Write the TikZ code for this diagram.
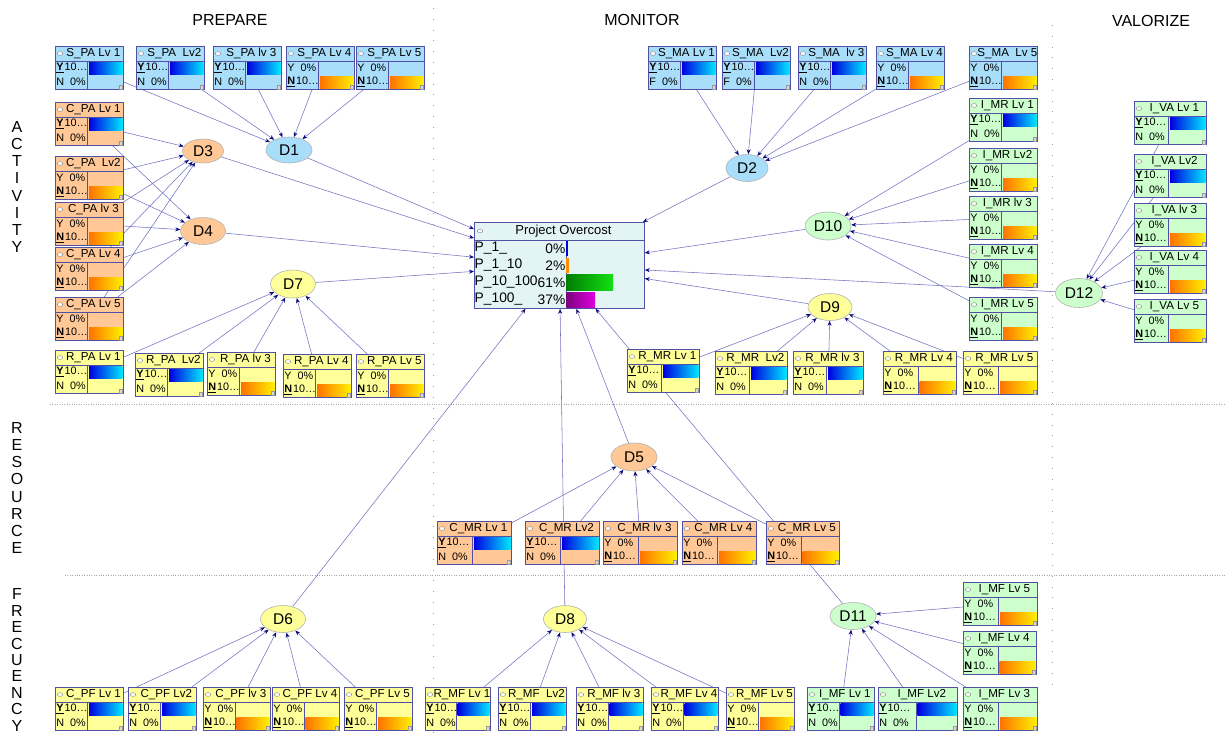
\documentclass[tikz,border=0pt]{standalone}
\usepackage{fontspec}
\setmainfont{Liberation Sans}
\usetikzlibrary{arrows.meta, shapes.geometric, backgrounds}

\definecolor{bluefill}{RGB}{168,222,250}
\definecolor{orangefill}{RGB}{255,200,150}
\definecolor{yellowfill}{RGB}{255,255,153}
\definecolor{greenfill}{RGB}{204,255,204}
\definecolor{pofill}{RGB}{226,244,244}
\definecolor{cptborder}{RGB}{80,80,165}
\definecolor{linkc}{RGB}{115,115,195}
\definecolor{arrowc}{RGB}{10,10,120}
\definecolor{ybarl}{RGB}{0,0,225}
\definecolor{ybarr}{RGB}{0,230,255}
\definecolor{nbarl}{RGB}{255,115,0}
\definecolor{nbarr}{RGB}{255,240,0}
\definecolor{pogreenl}{RGB}{0,125,0}
\definecolor{pogreenr}{RGB}{20,225,20}
\definecolor{popurplel}{RGB}{125,0,125}
\definecolor{popurpler}{RGB}{225,0,225}

% one probability box: name, corner, width, fill, title, row 1, row 2, bar colour, bar offset
\newcommand{\cptbox}[9]{%
  \node[cpt, fill=#4, minimum width=#3] (#1) at (#2) {};
  \shade[left color=#8l, right color=#8r]
    ([xshift=0.48*#3+1.5, yshift=-#9]#1.north west) rectangle ([xshift=-1.5, yshift=-#9-12]#1.north east);
  \draw[cptline] ([yshift=-15]#1.north west) -- ([yshift=-15]#1.north east);
  \draw[cptline] ([xshift=0.48*#3, yshift=-15]#1.north west) -- ([xshift=0.48*#3]#1.south west);
  \node[cpticon] at ([xshift=5, yshift=-7.5]#1.north west) {};
  \node[cpttitle] at ([xshift=4, yshift=-7.5]#1.north) {#5};
  \node[cptrow] at ([xshift=1.2, yshift=-22]#1.north west) {#6};
  \node[cptrow] at ([xshift=1.2, yshift=-36]#1.north west) {#7};
  \draw[cptcorner] ([xshift=-5, yshift=1]#1.south east) rectangle ([xshift=-1.5, yshift=4.5]#1.south east);
}
\newcommand{\cpty}[6][N]{\cptbox{#2}{#3}{#4}{#5}{#6}{\underline{\textbf{Y}}\kern1pt10\ldots}{#1\hspace{6pt}0\%}{ybar}{16}}
\newcommand{\cptn}[5]{\cptbox{#1}{#2}{#3}{#4}{#5}{Y\hspace{6pt}0\%}{\underline{\textbf{N}}\kern1pt10\ldots}{nbar}{30}}

\begin{document}
\begin{tikzpicture}[
  x=1pt,
  y=1pt,
  cpt/.style={draw=cptborder, line width=0.8pt, rectangle, anchor=north west,
    inner sep=0pt, minimum height=43},
  cptline/.style={draw=cptborder, line width=0.8pt},
  cpticon/.style={ellipse, draw=gray, fill=white, line width=0.4pt,
    minimum width=5.5, minimum height=3.8, inner sep=0pt},
  cpttitle/.style={inner sep=0pt, font=\fontsize{11.6}{12}\selectfont},
  cptrow/.style={anchor=west, inner sep=0pt, font=\fontsize{10.8}{12}\selectfont},
  cptcorner/.style={fill=gray!30, draw=gray!80, line width=0.3pt},
  potitle/.style={inner sep=0pt, font=\fontsize{13}{14}\selectfont},
  porow/.style={inner sep=0pt, font=\fontsize{13.8}{14}\selectfont},
  dnode/.style={ellipse, draw=gray!60, line width=0.6pt, inner sep=0pt,
    minimum width=45, minimum height=27, font=\fontsize{15.5}{15.5}\selectfont},
  link/.style={draw=linkc, line width=0.55pt,
    -{Stealth[length=5pt, width=4pt, color=arrowc]}},
  sepv/.style={draw=gray!75, line width=0.8pt, dash pattern=on 0.8pt off 10pt},
  seph/.style={draw=gray!70, line width=0.7pt, dash pattern=on 0.8pt off 1.6pt},
  lab/.style={inner sep=0pt, font=\fontsize{16}{16}\selectfont},
  sidelab/.style={inner sep=0pt, align=center, font=\fontsize{16}{17.1}\selectfont}
]
  \useasboundingbox (0,0) rectangle (1225,-734);

  % Column and row headings.
  \node[lab] (prepare)  at (230,-20)  {PREPARE};
  \node[lab] (monitor)  at (642,-20)  {MONITOR};
  \node[lab] (valorize) at (1151,-21) {VALORIZE};
  \node[sidelab] (activity)  at (17,-187) {A\\C\\T\\I\\V\\I\\T\\Y};
  \node[sidelab] (resource)  at (17,-488) {R\\E\\S\\O\\U\\R\\C\\E};
  \node[sidelab, font=\fontsize{16}{16.4}\selectfont] (frecuency) at (17,-660) {F\\R\\E\\C\\U\\E\\N\\C\\Y};

  % Prepare / activity.
  \cpty{spa1}{55,-46}{68}{bluefill}{S\_PA Lv 1}
  \cpty{spa2}{136,-46}{68}{bluefill}{S\_PA\ \ Lv2}
  \cpty{spa3}{213,-46}{68}{bluefill}{S\_PA lv 3}
  \cptn{spa4}{286,-46}{68}{bluefill}{S\_PA Lv 4}
  \cptn{spa5}{356,-46}{68}{bluefill}{S\_PA Lv 5}

  \cpty{cpa1}{55,-102}{68}{orangefill}{C\_PA Lv 1}
  \cptn{cpa2}{55,-156}{68}{orangefill}{C\_PA\ \ Lv2}
  \cptn{cpa3}{55,-202}{68}{orangefill}{C\_PA lv 3}
  \cptn{cpa4}{55,-247}{68}{orangefill}{C\_PA Lv 4}
  \cptn{cpa5}{55,-297}{68}{orangefill}{C\_PA Lv 5}

  \cpty{rpa1}{55,-350}{68}{yellowfill}{R\_PA Lv 1}
  \cpty{rpa2}{135,-353}{68}{yellowfill}{R\_PA\ \ Lv2}
  \cptn{rpa3}{207,-352}{68}{yellowfill}{R\_PA lv 3}
  \cptn{rpa4}{283,-354}{68}{yellowfill}{R\_PA Lv 4}
  \cptn{rpa5}{356,-354}{68}{yellowfill}{R\_PA Lv 5}

  \node[dnode, fill=bluefill, minimum width=46, minimum height=26]   (d1) at (289,-150) {D1};
  \node[dnode, fill=orangefill, minimum width=41, minimum height=24] (d3) at (203,-151) {D3};
  \node[dnode, fill=orangefill]                                      (d4) at (203,-231) {D4};
  \node[dnode, fill=yellowfill, minimum height=28]                   (d7) at (293,-284) {D7};

  % Monitor / activity.
  \cpty[F]{sma1}{648,-46}{68}{bluefill}{S\_MA Lv 1}
  \cpty[F]{sma2}{722,-46}{68}{bluefill}{S\_MA\ \ Lv2}
  \cpty{sma3}{798,-46}{68}{bluefill}{S\_MA\ \ lv 3}
  \cptn{sma4}{876,-46}{68}{bluefill}{S\_MA Lv 4}
  \cptn{sma5}{969,-46}{68}{bluefill}{S\_MA\ \ Lv 5}

  \cpty{imr1}{969,-98}{68}{greenfill}{I\_MR Lv 1}
  \cptn{imr2}{969,-148}{68}{greenfill}{I\_MR Lv2}
  \cptn{imr3}{969,-196}{68}{greenfill}{I\_MR lv 3}
  \cptn{imr4}{969,-244}{68}{greenfill}{I\_MR Lv 4}
  \cptn{imr5}{969,-297}{68}{greenfill}{I\_MR Lv 5}

  \cpty{rmr1}{627,-349}{72}{yellowfill}{R\_MR Lv 1}
  \cpty{rmr2}{715,-351}{72}{yellowfill}{R\_MR\ \ Lv2}
  \cpty{rmr3}{793,-351}{70}{yellowfill}{R\_MR lv 3}
  \cptn{rmr4}{883,-351}{73}{yellowfill}{R\_MR Lv 4}
  \cptn{rmr5}{963,-351}{74}{yellowfill}{R\_MR Lv 5}

  \node[dnode, fill=bluefill, minimum width=42]                  (d2)  at (747,-168) {D2};
  \node[dnode, fill=greenfill, minimum width=46, minimum height=28] (d10) at (828,-226) {D10};
  \node[dnode, fill=yellowfill, minimum width=44]                (d9)  at (830,-307) {D9};

  % Valorize / activity.
  \cpty{iva1}{1134,-101}{72}{greenfill}{I\_VA Lv 1}
  \cpty{iva2}{1134,-154}{72}{greenfill}{I\_VA Lv2}
  \cptn{iva3}{1134,-203}{72}{greenfill}{I\_VA lv 3}
  \cptn{iva4}{1134,-250}{72}{greenfill}{I\_VA Lv 4}
  \cptn{iva5}{1134,-299}{72}{greenfill}{I\_VA Lv 5}

  \node[dnode, fill=greenfill, minimum width=47, minimum height=29] (d12) at (1079,-293) {D12};

  % Resource.
  \cpty{cmr1}{437,-521}{74}{orangefill}{C\_MR Lv 1}
  \cpty{cmr2}{525,-521}{74}{orangefill}{C\_MR Lv2}
  \cptn{cmr3}{603,-521}{74}{orangefill}{C\_MR lv 3}
  \cptn{cmr4}{682,-521}{74}{orangefill}{C\_MR Lv 4}
  \cptn{cmr5}{766,-521}{73}{orangefill}{C\_MR Lv 5}

  \node[dnode, fill=orangefill, minimum width=46, minimum height=28] (d5) at (634,-457) {D5};

  % Frecuency.
  \cpty{cpf1}{55,-687}{68}{yellowfill}{C\_PF Lv 1}
  \cpty{cpf2}{128,-687}{68}{yellowfill}{C\_PF Lv2}
  \cptn{cpf3}{203,-687}{67}{yellowfill}{C\_PF lv 3}
  \cptn{cpf4}{272,-687}{67}{yellowfill}{C\_PF Lv 4}
  \cptn{cpf5}{344,-687}{68}{yellowfill}{C\_PF Lv 5}

  \cpty{rmf1}{425,-687}{65}{yellowfill}{R\_MF Lv 1}
  \cpty{rmf2}{498,-687}{68}{yellowfill}{R\_MF\ \ Lv2}
  \cpty{rmf3}{576,-687}{67}{yellowfill}{R\_MF lv 3}
  \cpty{rmf4}{651,-687}{67}{yellowfill}{R\_MF Lv 4}
  \cptn{rmf5}{726,-687}{68}{yellowfill}{R\_MF Lv 5}

  \cpty{imf1}{807,-687}{67}{greenfill}{I\_MF Lv 1}
  \cpty{imf2}{878,-687}{79}{greenfill}{I\_MF Lv2}
  \cptn{imf3}{963,-687}{74}{greenfill}{I\_MF Lv 3}
  \cptn{imf4}{963,-631}{73}{greenfill}{I\_MF Lv 4}
  \cptn{imf5}{963,-582}{74}{greenfill}{I\_MF Lv 5}

  \node[dnode, fill=yellowfill]                   (d6)  at (283,-619) {D6};
  \node[dnode, fill=yellowfill, minimum width=43] (d8)  at (565,-619) {D8};
  \node[dnode, fill=greenfill, minimum width=46]  (d11) at (853,-616) {D11};

  % Project overcost table.
  \node[cpt, fill=pofill, minimum width=170, minimum height=86] (po) at (474,-222) {};
  \draw[cptline] ([yshift=-18]po.north west) -- ([yshift=-18]po.north east);
  \draw[cptline] ([xshift=92, yshift=-18]po.north west) -- ([xshift=92]po.south west);
  \node[cpticon] at ([xshift=6, yshift=-9]po.north west) {};
  \node[potitle] at ([xshift=4, yshift=-9]po.north) {Project Overcost};
  \node[porow, anchor=west] at ([xshift=0.5, yshift=-26.5]po.north west) {P\_1\_};
  \node[porow, anchor=west] at ([xshift=0.5, yshift=-43.5]po.north west) {P\_1\_10};
  \node[porow, anchor=west] at ([xshift=0.5, yshift=-60.5]po.north west) {P\_10\_100};
  \node[porow, anchor=west] at ([xshift=0.5, yshift=-77.5]po.north west) {P\_100\_};
  \node[porow, anchor=east] at ([xshift=91.5, yshift=-26.5]po.north west) {0\%};
  \node[porow, anchor=east] at ([xshift=91.5, yshift=-43.5]po.north west) {2\%};
  \node[porow, anchor=east] at ([xshift=91.5, yshift=-60.5]po.north west) {61\%};
  \node[porow, anchor=east] at ([xshift=91.5, yshift=-77.5]po.north west) {37\%};
  \fill[ybarl] ([xshift=92, yshift=-19]po.north west) rectangle ([xshift=93.6, yshift=-34]po.north west);
  \fill[nbarl!80!yellow] ([xshift=92, yshift=-36]po.north west) rectangle ([xshift=95, yshift=-51]po.north west);
  \shade[left color=pogreenl, right color=pogreenr]
    ([xshift=92.5, yshift=-52]po.north west) rectangle ([xshift=139, yshift=-68]po.north west);
  \shade[left color=popurplel, right color=popurpler]
    ([xshift=92.5, yshift=-70]po.north west) rectangle ([xshift=121, yshift=-85]po.north west);

  \begin{scope}[on background layer]
    \fill[white] (0,0) rectangle (1225,-734);
    \draw[sepv] (433,-8) -- (433,-734);
    \draw[sepv] (1052,-25) -- (1052,-690);
    \draw[seph] (50,-404) -- (1225,-404);
    \draw[seph] (65,-575) -- (1225,-575);

    \foreach \i in {1,...,5} {
      \draw[link] (spa\i) -- (d1);
      \draw[link] (cpa\i) -- (d3);
      \draw[link] (cpa\i) -- (d4);
      \draw[link] (rpa\i) -- (d7);
      \draw[link] (sma\i) -- (d2);
      \draw[link] (imr\i) -- (d10);
      \draw[link] (rmr\i) -- (d9);
      \draw[link] (iva\i) -- (d12);
      \draw[link] (cmr\i) -- (d5);
      \draw[link] (cpf\i) -- (d6);
      \draw[link] (rmf\i) -- (d8);
      \draw[link] (imf\i) -- (d11);
    }
    \foreach \d in {d1,d2,d3,d4,d5,d6,d7,d8,d9,d10,d11,d12}
      \draw[link] (\d) -- (po);
  \end{scope}
\end{tikzpicture}
\end{document}
